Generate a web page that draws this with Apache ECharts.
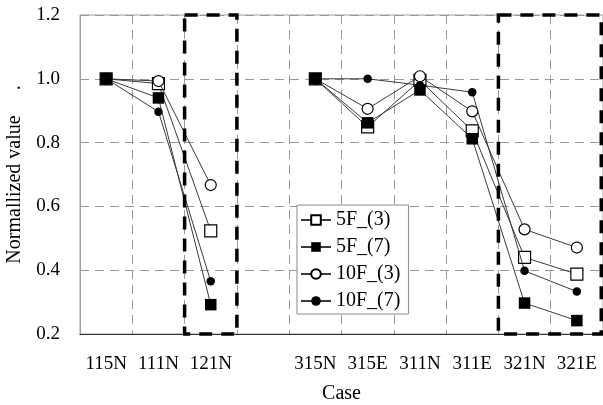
<!DOCTYPE html>
<html>
<head>
<meta charset="utf-8">
<script src="https://cdn.jsdelivr.net/npm/echarts@6/dist/echarts.min.js"></script>
<style>
  html, body { margin: 0; padding: 0; background: #fff; }
  #chart { width: 603px; height: 405px; }
</style>
</head>
<body>
<div id="chart"></div>
<script>
// Load cases along the x axis; the blank entry separates the two groups.
const categories = ['115N', '111N', '121N', '', '315N', '315E', '311N', '311E', '321N', '321E'];
const yTicks = [0.2, 0.4, 0.6, 0.8, 1.0, 1.2];

// Normalized values per model
const s5F3  = [1.0, 0.985, 0.523, null, 1.0, 0.849, 0.995, 0.837, 0.440, 0.388];
const s5F7  = [1.0, 0.940, 0.292, null, 1.0, 0.862, 0.965, 0.812, 0.297, 0.242];
const s10F3 = [1.0, 0.993, 0.667, null, 1.0, 0.906, 1.008, 0.898, 0.528, 0.471];
const s10F7 = [1.0, 0.897, 0.365, null, 1.0, 1.000, 0.980, 0.958, 0.398, 0.333];

// Cases enclosed by the highlighted dashed frames
const highlightGroups = [['121N', '121N'], ['321N', '321E']];

const FONT = '"Liberation Serif", "Times New Roman", serif';

const chart = echarts.init(document.getElementById('chart'));

function lineSeries(name, data, symbol, size, filled, z) {
  return {
    name: name,
    type: 'line',
    data: data,
    z: z,
    connectNulls: false,
    symbol: symbol,
    symbolSize: size,
    showAllSymbol: true,
    lineStyle: { color: '#3a3a3a', width: 1 },
    itemStyle: filled
      ? { color: '#000', borderColor: '#000', borderWidth: 0 }
      : { color: '#fff', borderColor: '#000', borderWidth: 1.2 },
    emphasis: { disabled: true },
    animation: false
  };
}

chart.setOption({
  animation: false,
  grid: {
    left: 80, top: 15, right: 0, bottom: 71,
    containLabel: false,
    outerBoundsMode: 'none',
    show: true, borderColor: '#a0a0a0', borderWidth: 1, backgroundColor: 'transparent'
  },
  xAxis: {
    type: 'category',
    data: categories,
    boundaryGap: true,
    name: 'Case',
    nameLocation: 'middle',
    nameGap: 50,
    nameTextStyle: { fontFamily: FONT, fontSize: 20, color: '#000' },
    axisLine: { lineStyle: { color: '#333', width: 1.2 } },
    axisTick: { show: false },
    axisLabel: { fontFamily: FONT, fontSize: 19, color: '#000', margin: 21, interval: 0 },
    splitLine: { show: true, lineStyle: { color: '#999', type: [9, 6], width: 1 } }
  },
  yAxis: {
    type: 'value',
    min: yTicks[0],
    max: yTicks[yTicks.length - 1],
    interval: 0.2,
    name: 'Normallized value     .',
    nameLocation: 'middle',
    nameGap: 55,
    nameTextStyle: { fontFamily: FONT, fontSize: 20, color: '#000' },
    axisLine: { show: true, lineStyle: { color: '#a0a0a0', width: 1 } },
    axisTick: { show: false },
    axisLabel: {
      fontFamily: FONT, fontSize: 19, color: '#000', margin: 20,
      formatter: v => v.toFixed(1)
    },
    splitLine: { show: true, lineStyle: { color: '#999', type: [9, 6], width: 1 } }
  },
  legend: {
    orient: 'vertical',
    left: 297,
    top: 205,
    padding: [5, 8, 3, 3],
    itemWidth: 30,
    itemHeight: 12,
    itemGap: 7,
    backgroundColor: '#fff',
    borderColor: '#888',
    borderWidth: 1,
    textStyle: { fontFamily: FONT, fontSize: 20, lineHeight: 20, color: '#000' },
    data: ['5F_(3)', '5F_(7)', '10F_(3)', '10F_(7)']
  },
  series: [
    lineSeries('5F_(3)', s5F3, 'rect', 12, false, 2),
    lineSeries('5F_(7)', s5F7, 'rect', 11.5, true, 5),
    lineSeries('10F_(3)', s10F3, 'circle', 11, false, 3),
    lineSeries('10F_(7)', s10F7, 'circle', 8.5, true, 4)
  ]
});

// Thick dashed frames around the highlighted case bands, placed with the axis scale.
function drawFrames() {
  const c0 = chart.convertToPixel({ xAxisIndex: 0 }, 0);
  const c1 = chart.convertToPixel({ xAxisIndex: 0 }, 1);
  const band = c1 - c0;
  const yTop = chart.convertToPixel({ yAxisIndex: 0 }, yTicks[yTicks.length - 1]);
  const yBot = chart.convertToPixel({ yAxisIndex: 0 }, yTicks[0]);
  const lw = 3.5;
  const frames = highlightGroups.map(([a, b]) => {
    const xa = chart.convertToPixel({ xAxisIndex: 0 }, categories.indexOf(a)) - band / 2;
    const xb = chart.convertToPixel({ xAxisIndex: 0 }, categories.indexOf(b)) + band / 2;
    return {
      type: 'rect',
      silent: true,
      z: 100,
      shape: { x: xa, y: yTop, width: Math.min(xb, 603 - lw / 2) - xa, height: yBot - yTop },
      style: { fill: 'none', stroke: '#000', lineWidth: lw, lineDash: [13, 9] }
    };
  });
  chart.setOption({ graphic: frames });
}
drawFrames();
</script>
</body>
</html>
